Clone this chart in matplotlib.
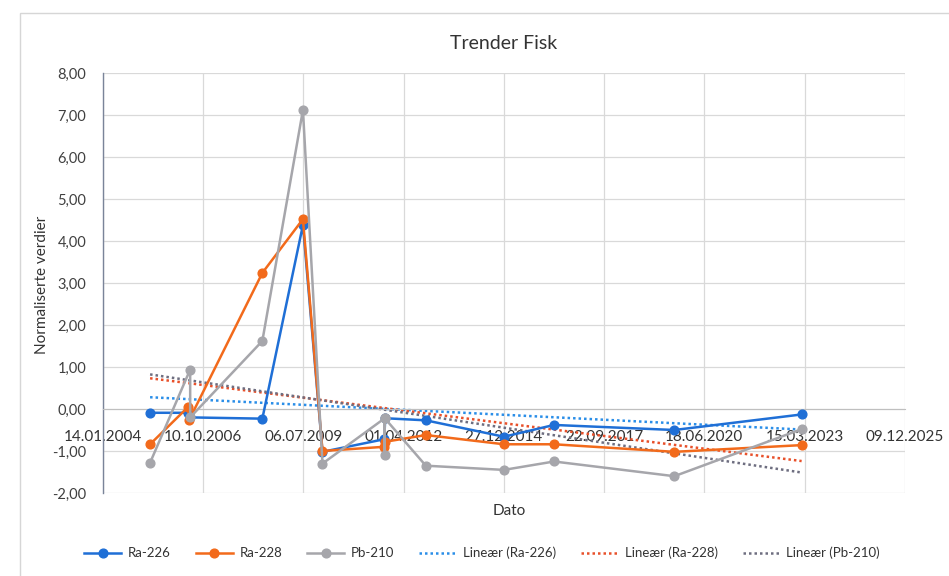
import matplotlib.pyplot as plt
import matplotlib.dates as mdates
import numpy as np
import pandas as pd
from matplotlib.patches import Rectangle

plt.rcParams['font.family'] = ['Lato', 'DejaVu Sans']

# x-axis tick labels (every 1000 days)
tick_labels = ['14.01.2004', '10.10.2006', '06.07.2009', '01.04.2012', '27.12.2014',
               '22.09.2017', '18.06.2020', '15.03.2023', '09.12.2025']

# normalised values per nuclide
ra226_dates = ['2005-04-28', '2006-05-13', '2006-06-02', '2008-05-22', '2009-07-01',
               '2010-01-12', '2011-09-20', '2011-09-30', '2012-11-08', '2014-12-27',
               '2016-05-10', '2019-08-23', '2023-02-13']
ra226 = [-0.09, -0.09, -0.20, -0.23, 4.38, -1.02, -0.72, -0.22, -0.27, -0.66, -0.38, -0.50, -0.13]

ra228_dates = ['2005-04-28', '2006-05-13', '2006-05-23', '2008-05-22', '2009-07-01',
               '2010-01-12', '2011-09-20', '2011-09-30', '2012-11-08', '2014-12-27',
               '2016-05-10', '2019-08-23', '2023-02-13']
ra228 = [-0.84, 0.05, -0.26, 3.24, 4.52, -1.00, -0.90, -0.78, -0.62, -0.84, -0.84, -1.02, -0.86]

pb210_dates = ['2005-04-28', '2006-06-02', '2006-06-02', '2008-05-22', '2009-07-01',
               '2010-01-12', '2011-09-25', '2011-09-25', '2011-09-25', '2012-11-08',
               '2014-12-27', '2016-05-10', '2019-08-23', '2023-02-13']
pb210 = [-1.28, 0.94, -0.20, 1.62, 7.12, -1.30, -0.22, -1.10, -0.22, -1.35, -1.45, -1.25, -1.60, -0.48]

series = [
    ('Ra-226', ra226_dates, ra226, '#1f6fd6', '#2a8ee8'),
    ('Ra-228', ra228_dates, ra228, '#f26a1b', '#e8502a'),
    ('Pb-210', pb210_dates, pb210, '#a6a6ab', '#6e6e80'),
]


def to_num(dates, fmt='%Y-%m-%d'):
    return mdates.date2num(pd.to_datetime(dates, format=fmt))


fig = plt.figure(figsize=(9.49, 5.76), dpi=100)
ax = fig.add_axes([0.1085, 0.1441, 0.845, 0.7292])

ticks = to_num(tick_labels, '%d.%m.%Y')

handles = []
for name, d, v, col, tcol in series:
    x = to_num(d)
    h, = ax.plot(x, v, color=col, lw=1.8, marker='o', ms=6.3, zorder=3, label=name)
    handles.append(h)

# linear trend lines (Excel "Lineær")
for name, d, v, col, tcol in series:
    x = to_num(d)
    k, m = np.polyfit(x, v, 1)
    xs = np.array([x.min(), x.max()])
    h, = ax.plot(xs, k * xs + m, color=tcol, lw=1.8, ls=(0, (1, 1.2)), zorder=2,
                 label='Lineær (%s)' % name)
    handles.append(h)

ax.set_xlim(ticks[0], ticks[-1])
ax.set_ylim(-2, 8)
ax.set_xticks(ticks)
ax.set_xticklabels(tick_labels)
ax.set_yticks(np.arange(-2, 9, 1))
ax.yaxis.set_major_formatter(plt.FuncFormatter(lambda v, p: f'{v:.2f}'.replace('.', ',')))

ax.grid(True, color='#d9d9d9', lw=0.9)
ax.set_axisbelow(True)
for s in ['top', 'right']:
    ax.spines[s].set_visible(False)
ax.spines['left'].set_color('#7a8499')
ax.spines['left'].set_linewidth(1.0)
ax.spines['bottom'].set_position(('data', 0))
ax.spines['bottom'].set_color('#bfbfbf')
ax.tick_params(axis='x', length=0, pad=15, labelsize=11, labelcolor='#333333')
ax.tick_params(axis='y', length=0, pad=12, labelsize=10.5, labelcolor='#404040')

ax.set_title('Trender Fisk', fontsize=14, color='#333333', pad=17)
fig.text(0.537, 0.113, 'Dato', ha='center', va='center', fontsize=11, color='#333333')
fig.text(0.044, 0.505, 'Normaliserte verdier', ha='center', va='center', rotation=90,
         fontsize=11, color='#333333')

fig.legend(handles=handles, loc='center', bbox_to_anchor=(0.508, 0.04), ncol=6,
           frameon=False, fontsize=9.5, handlelength=2.8, columnspacing=1.9,
           handletextpad=0.5, labelcolor='#333333')

fig.patches.append(Rectangle((0.021, -0.01), 1.0, 0.987, transform=fig.transFigure,
                             fill=False, ec='#d6d6d6', lw=1.0))

fig.savefig('out.png', dpi=100)
